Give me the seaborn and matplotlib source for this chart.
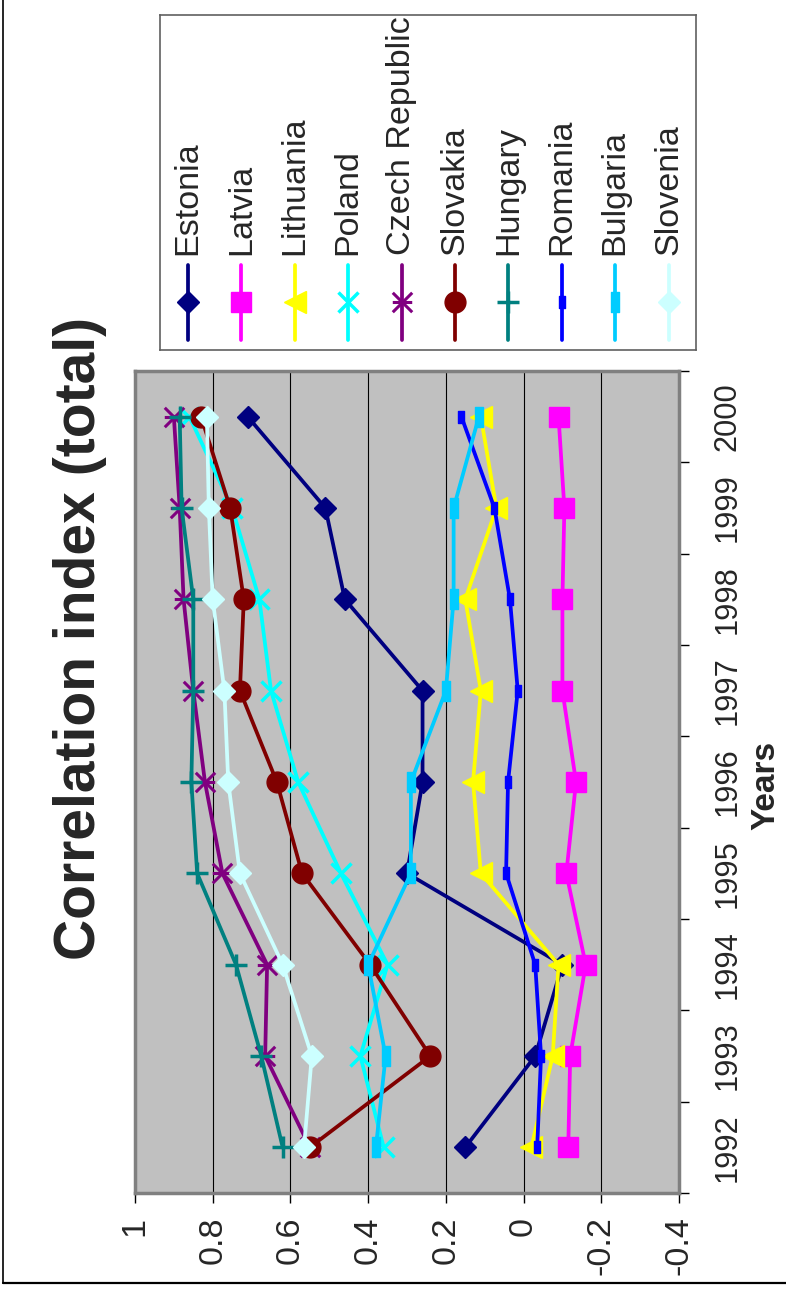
import matplotlib
matplotlib.use("Agg")
import numpy as np
import pandas as pd
import seaborn as sns
import matplotlib.pyplot as plt
from matplotlib.path import Path
from matplotlib.lines import Line2D
from matplotlib import font_manager as fm

# ---------------- data ----------------
years = [1992, 1993, 1994, 1995, 1996, 1997, 1998, 1999, 2000]
countries = ["Estonia", "Latvia", "Lithuania", "Poland", "Czech Republic",
             "Slovakia", "Hungary", "Romania", "Bulgaria", "Slovenia"]
estonia = [0.15, -0.03, -0.10, 0.30, 0.26, 0.26, 0.46, 0.51, 0.71]
latvia = [-0.115, -0.12, -0.16, -0.11, -0.135, -0.10, -0.10, -0.105, -0.09]
lithuania = [-0.02, -0.075, -0.09, 0.11, 0.13, 0.11, 0.15, 0.07, 0.11]
poland = [0.36, 0.42, 0.35, 0.47, 0.58, 0.65, 0.68, 0.75, 0.86]
czech = [0.55, 0.665, 0.66, 0.775, 0.82, 0.85, 0.875, 0.885, 0.90]
slovakia = [0.55, 0.24, 0.395, 0.57, 0.635, 0.73, 0.72, 0.755, 0.83]
hungary = [0.62, 0.675, 0.74, 0.84, 0.855, 0.85, 0.85, 0.88, 0.885]
romania = [-0.035, -0.045, -0.03, 0.045, 0.04, 0.015, 0.035, 0.075, 0.16]
bulgaria = [0.38, 0.355, 0.40, 0.29, 0.29, 0.20, 0.18, 0.18, 0.115]
slovenia = [0.565, 0.545, 0.62, 0.73, 0.76, 0.77, 0.80, 0.81, 0.815]
series = [estonia, latvia, lithuania, poland, czech,
          slovakia, hungary, romania, bulgaria, slovenia]

value_ticks = [1, 0.8, 0.6, 0.4, 0.2, 0, -0.2, -0.4]
value_labels = ["1", "0.8", "0.6", "0.4", "0.2", "0", "-0.2", "-0.4"]
year_labels = [str(y) for y in years]
title = "Correlation index (total)"
axis_title = "Years"

# ---------------- style ----------------
colors = ["#000080", "#FF00FF", "#FFFF00", "#00FFFF", "#800080",
          "#800000", "#008080", "#0000FF", "#00CCFF", "#CCFFFF"]

star = Path([(-1, -1), (1, 1), (-1, 1), (1, -1), (-1, 0), (1, 0)],
            [Path.MOVETO, Path.LINETO, Path.MOVETO, Path.LINETO,
             Path.MOVETO, Path.LINETO])
bar_small = Path([(-0.25, -0.5), (0.25, -0.5), (0.25, 0.5), (-0.25, 0.5), (-0.25, -0.5)],
                 [Path.MOVETO, Path.LINETO, Path.LINETO, Path.LINETO, Path.CLOSEPOLY])
bar_big = Path([(-0.17, -0.5), (0.17, -0.5), (0.17, 0.5), (-0.17, 0.5), (-0.17, -0.5)],
               [Path.MOVETO, Path.LINETO, Path.LINETO, Path.LINETO, Path.CLOSEPOLY])

markers = ["D", "s", "<", "x", star, "o", "+", bar_small, bar_big, "D"]
msizes = [11, 15, 16, 15, 14, 15, 16, 9, 15, 11]
mews = [1, 1, 1, 2.5, 2.2, 1, 2.5, 1, 1, 1]
filled = [True, True, True, False, False, True, False, True, True, True]
LW = 2.7

sns.set_theme(style="white")
names = {f.name for f in fm.fontManager.ttflist}
narrow = "Liberation Sans Narrow" in names
if narrow:
    fam = ["Liberation Sans Narrow", "DejaVu Sans"]
    k = 1.0
else:
    fam = ["Liberation Sans", "DejaVu Sans"]
    k = 0.82
plt.rcParams["font.family"] = fam

W, H = 786, 1289
fig = plt.figure(figsize=(W / 100, H / 100), dpi=100)
fig.patch.set_facecolor("white")

def fx(px):
    return px / W

def fy(py):
    return 1 - py / H

# main axes
L, R, T, B = 135, 679, 371, 1193
ax = fig.add_axes([fx(L), fy(B), fx(R - L), (B - T) / H])
ax.set_facecolor("#C0C0C0")

for name, vals, c, m, ms, mew, fl in zip(countries, series, colors, markers,
                                         msizes, mews, filled):
    sns.lineplot(x=vals, y=years, ax=ax, estimator=None, sort=False,
                 color=c, linewidth=LW, marker=m, markersize=ms,
                 markeredgecolor=c, markeredgewidth=mew,
                 markerfacecolor=(c if fl else "none"), zorder=3)

ax.set_xlim(1, -0.4)
ax.set_ylim(1991.5, 2000.5)
ax.set_xlabel("")
ax.set_ylabel("")
ax.set_xticks(value_ticks)
ax.set_xticklabels(value_labels, rotation=90, fontsize=30 * k)
ax.grid(axis="x", color="black", linewidth=0.8, zorder=1)
ax.grid(axis="y", visible=False)
ax.set_axisbelow(True)
ax.tick_params(axis="x", direction="out", length=7, width=1, color="black",
               pad=10, bottom=True)

ax.yaxis.tick_right()
ax.set_yticks(np.arange(1991.5, 2001, 1))
ax.set_yticklabels([])
ax.set_yticks(years, minor=True)
ax.set_yticklabels(year_labels, minor=True, rotation=90, fontsize=27 * k,
                   va="center")
ax.tick_params(axis="y", which="major", direction="out", length=7, width=1,
               color="black", right=True, left=False)
ax.tick_params(axis="y", which="minor", length=0, pad=24, right=True, left=False)
for lab in ax.get_yticklabels(minor=True):
    lab.set_horizontalalignment("left")

for s in ax.spines.values():
    s.set_color("#808080")
    s.set_linewidth(2.5)
    s.set_visible(True)

# titles
fig.text(fx(80), fy(638), title, rotation=90, ha="center", va="center",
         fontsize=50 * k, fontweight="bold")
fig.text(fx(766), fy(785), axis_title, rotation=90, ha="center", va="center",
         fontsize=24, fontweight="bold")

# legend (drawn as its own axes, rotated layout)
LL, LR, LT, LB = 160, 696, 15, 350
lax = fig.add_axes([fx(LL), fy(LB), fx(LR - LL), (LB - LT) / H])
lax.set_xlim(0, LR - LL)
lax.set_ylim(LB - LT, 0)
lax.set_xticks([])
lax.set_yticks([])
lax.set_facecolor("white")
for s in lax.spines.values():
    s.set_color("#606060")
    s.set_linewidth(1.2)
for i, (name, c, m, ms, mew, fl) in enumerate(zip(countries, colors, markers,
                                                 msizes, mews, filled)):
    xc = 28 + i * 53.4
    lax.plot([xc, xc], [250, 325], color=c, linewidth=LW)
    lax.plot([xc], [287], color=c, marker=m, markersize=ms,
             markeredgecolor=c, markeredgewidth=mew,
             markerfacecolor=(c if fl else "none"))
    lax.text(xc, 240, name, rotation=90, ha="center", va="bottom",
             fontsize=30 * k)

# outer frame (left and bottom edges visible)
fig.add_artist(Line2D([fx(2.5), fx(2.5)], [fy(1282.5), 1], transform=fig.transFigure,
                      color="black", linewidth=1.2))
fig.add_artist(Line2D([fx(2.5), 1], [fy(1282.5), fy(1282.5)], transform=fig.transFigure,
                      color="black", linewidth=1.6))

fig.savefig("out.png", dpi=100, facecolor="white")
